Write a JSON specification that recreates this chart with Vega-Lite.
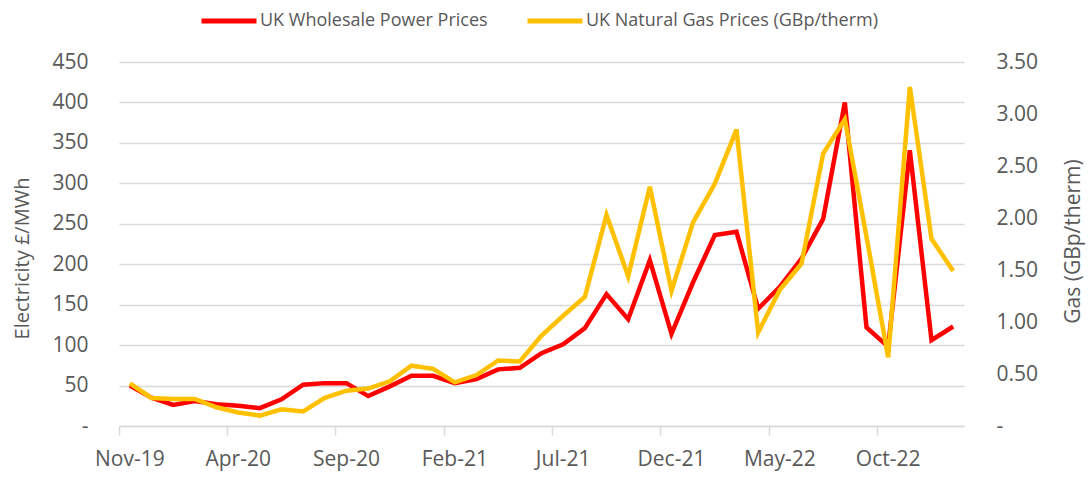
{
  "$schema": "https://vega.github.io/schema/vega-lite/v6.json",
  "width": 845,
  "height": 364,
  "autosize": "none",
  "padding": {"left": 119, "top": 62, "right": 125, "bottom": 52},
  "background": "white",
  "config": {
    "view": {"stroke": null},
    "font": "Open Sans",
    "axis": {"labelColor": "#595959", "titleColor": "#595959", "labelFont": "Open Sans", "titleFont": "Open Sans", "titleFontWeight": "normal"}
  },
  "data": {
    "values": [
      {"month": "Nov-19", "elec": 50, "gas": 0.41},
      {"month": "Dec-19", "elec": 35, "gas": 0.27},
      {"month": "Jan-20", "elec": 26, "gas": 0.26},
      {"month": "Feb-20", "elec": 31, "gas": 0.26},
      {"month": "Mar-20", "elec": 27, "gas": 0.18},
      {"month": "Apr-20", "elec": 25, "gas": 0.13},
      {"month": "May-20", "elec": 22, "gas": 0.1},
      {"month": "Jun-20", "elec": 33, "gas": 0.16},
      {"month": "Jul-20", "elec": 51, "gas": 0.14},
      {"month": "Aug-20", "elec": 53, "gas": 0.27},
      {"month": "Sep-20", "elec": 53, "gas": 0.34},
      {"month": "Oct-20", "elec": 37, "gas": 0.36},
      {"month": "Nov-20", "elec": 49, "gas": 0.43},
      {"month": "Dec-20", "elec": 62, "gas": 0.58},
      {"month": "Jan-21", "elec": 62, "gas": 0.55},
      {"month": "Feb-21", "elec": 53, "gas": 0.42},
      {"month": "Mar-21", "elec": 58, "gas": 0.49},
      {"month": "Apr-21", "elec": 70, "gas": 0.63},
      {"month": "May-21", "elec": 72, "gas": 0.62},
      {"month": "Jun-21", "elec": 90, "gas": 0.87},
      {"month": "Jul-21", "elec": 101, "gas": 1.06},
      {"month": "Aug-21", "elec": 121, "gas": 1.24},
      {"month": "Sep-21", "elec": 163, "gas": 2.03},
      {"month": "Oct-21", "elec": 132, "gas": 1.44},
      {"month": "Nov-21", "elec": 205, "gas": 2.3},
      {"month": "Dec-21", "elec": 114, "gas": 1.3},
      {"month": "Jan-22", "elec": 178, "gas": 1.96},
      {"month": "Feb-22", "elec": 236, "gas": 2.33},
      {"month": "Mar-22", "elec": 240, "gas": 2.85},
      {"month": "Apr-22", "elec": 145, "gas": 0.9},
      {"month": "May-22", "elec": 172, "gas": 1.31},
      {"month": "Jun-22", "elec": 207, "gas": 1.56},
      {"month": "Jul-22", "elec": 256, "gas": 2.62},
      {"month": "Aug-22", "elec": 400, "gas": 2.95},
      {"month": "Sep-22", "elec": 122, "gas": 1.82},
      {"month": "Oct-22", "elec": 98, "gas": 0.66},
      {"month": "Nov-22", "elec": 341, "gas": 3.26},
      {"month": "Dec-22", "elec": 106, "gas": 1.8},
      {"month": "Jan-23", "elec": 123, "gas": 1.49}
    ]
  },
  "encoding": {
    "x": {
      "field": "month",
      "type": "ordinal",
      "sort": null,
      "bandPosition": 0.5,
      "scale": {"type": "band", "paddingInner": 0, "paddingOuter": 0},
      "axis": {
        "title": null,
        "values": ["Nov-19", "Apr-20", "Sep-20", "Feb-21", "Jul-21", "Dec-21", "May-22", "Oct-22"],
        "bandPosition": 0,
        "labelOffset": 0,
        "labelAngle": 0,
        "labelFontSize": 21,
        "labelPadding": 13,
        "tickSize": 9,
        "tickColor": "#D9D9D9",
        "tickWidth": 1.5,
        "domainColor": "#D9D9D9",
        "domainWidth": 1.5,
        "grid": false
      }
    }
  },
  "layer": [
    {
      "mark": {"type": "line", "strokeWidth": 4.5, "strokeJoin": "miter", "strokeCap": "butt"},
      "encoding": {
        "y": {
          "field": "elec",
          "type": "quantitative",
          "scale": {"domain": [0, 450], "nice": false, "zero": true},
          "axis": {
            "orient": "left",
            "title": "Electricity £/MWh",
            "titleFontSize": 20,
            "titleAngle": -90,
            "titleX": -97,
            "titleY": 196,
            "titleAlign": "center",
            "titleBaseline": "middle",
            "values": [0, 50, 100, 150, 200, 250, 300, 350, 400, 450],
            "labelExpr": "datum.value == 0 ? '-\u2007' : datum.label",
            "labelFontSize": 21,
            "labelPadding": 31,
            "ticks": false,
            "domain": false,
            "grid": true,
            "gridColor": "#D9D9D9",
            "gridWidth": 1.5
          }
        },
        "color": {
          "datum": "UK Wholesale Power Prices",
          "type": "nominal",
          "scale": {"domain": ["UK Wholesale Power Prices", "UK Natural Gas Prices (GBp/therm)"], "range": ["#FF0000", "#FFC000"]},
          "legend": {
            "title": null,
            "orient": "none",
            "direction": "horizontal",
            "legendX": 80,
            "legendY": -71,
            "symbolType": "stroke",
            "symbolSize": 3025,
            "symbolStrokeWidth": 5,
            "labelFontSize": 18,
            "labelColor": "#595959",
            "labelFont": "Open Sans",
            "labelOffset": 1,
            "columnPadding": 29,
            "labelLimit": 500
          }
        }
      }
    },
    {
      "mark": {"type": "line", "strokeWidth": 4.5, "strokeJoin": "miter", "strokeCap": "butt"},
      "encoding": {
        "y": {
          "field": "gas",
          "type": "quantitative",
          "scale": {"domain": [0, 3.5], "nice": false, "zero": true},
          "axis": {
            "orient": "right",
            "title": "Gas (GBp/therm)",
            "titleFontSize": 21,
            "titleAngle": -90,
            "titleX": 109,
            "titleY": 179,
            "titleAlign": "center",
            "titleBaseline": "middle",
            "values": [0, 0.5, 1, 1.5, 2, 2.5, 3, 3.5],
            "format": ".2f",
            "labelExpr": "datum.value == 0 ? '-' : datum.label",
            "labelFontSize": 21,
            "labelPadding": 32,
            "ticks": false,
            "domain": false,
            "grid": false
          }
        },
        "color": {"datum": "UK Natural Gas Prices (GBp/therm)", "type": "nominal"}
      }
    }
  ],
  "resolve": {"scale": {"y": "independent"}}
}
